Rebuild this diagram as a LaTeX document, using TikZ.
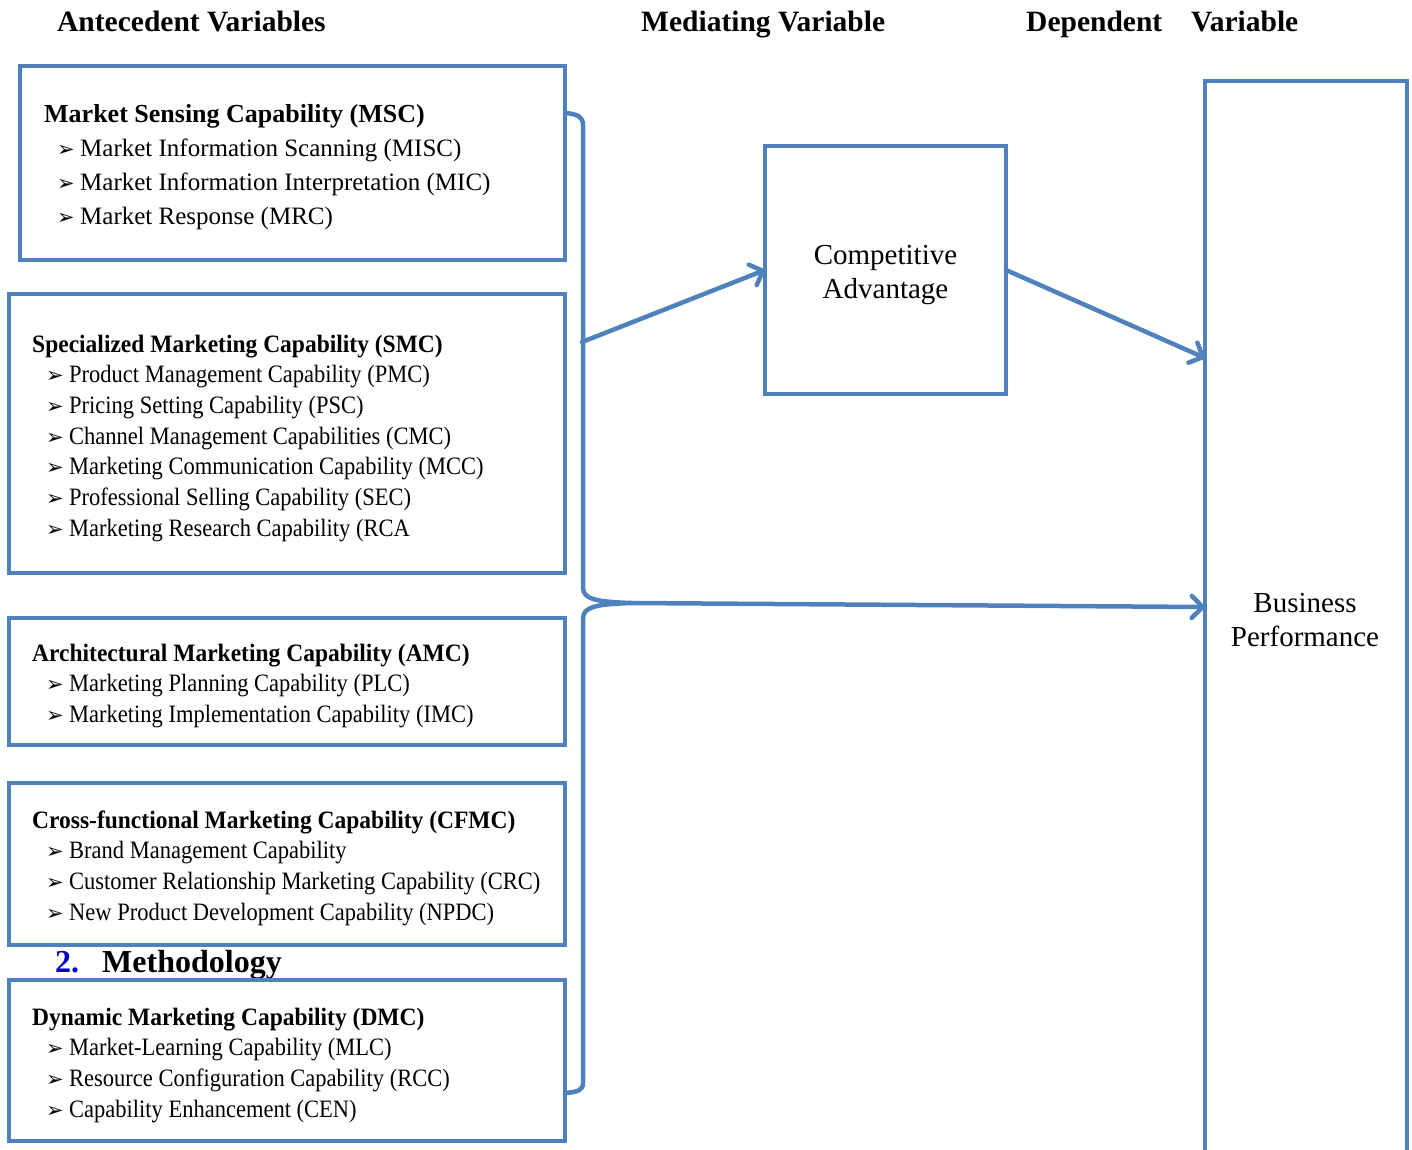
\documentclass[tikz,border=0pt]{standalone}
\usepackage{fontspec}
\setmainfont{Liberation Serif}
\newfontfamily\dejavu{DejaVu Sans}
\usepackage{xcolor}
\usetikzlibrary{arrows.meta,calc,positioning}

\definecolor{boxblue}{HTML}{4F81BD}
\definecolor{numblue}{HTML}{0000CC}
\newcommand{\arrb}{\makebox[23pt][l]{\dejavu\fontsize{21}{21}\selectfont ➢}}

\begin{document}
\begin{tikzpicture}[
    x=1pt, y=-1pt,
    capbox/.style={draw=boxblue, line width=4.5pt, fill=white, rectangle,
                   inner sep=0pt, outer sep=0pt, anchor=north west},
    link/.style={draw=boxblue, line width=4.5pt, line cap=round,
                 -{Straight Barb[round, length=11pt, width=22pt]}},
    brace/.style={draw=boxblue, line width=4.5pt, line cap=round, line join=round},
    head/.style={font=\fontsize{29.5}{34}\selectfont\bfseries, anchor=base west, inner sep=0pt},
    ttl/.style={font=\fontsize{26}{30}\selectfont\bfseries, anchor=base west, inner sep=0pt},
    itm/.style={font=\fontsize{25}{30}\selectfont, anchor=base west, inner sep=0pt},
    ttlc/.style={font=\fontsize{25}{30}\selectfont\bfseries\addfontfeature{FakeStretch=0.94},
                 anchor=base west, inner sep=0pt},
    itmc/.style={font=\fontsize{25}{30}\selectfont\addfontfeature{FakeStretch=0.9},
                 anchor=base west, inner sep=0pt},
    big/.style={font=\fontsize{29}{34}\selectfont, align=center, inner sep=0pt}
]

% page frame
\path[use as bounding box] (0,0) rectangle (1412,1149);

% column headings
\node[head] (hant) at (57,31) {Antecedent Variables};
\node[head] (hmed) at (641,31) {Mediating Variable};
\node[head] (hdep) at (1026,31) {Dependent};
\node[head] (hvar) at (1191,31) {Variable};

% stray section heading
\node[font=\fontsize{32}{36}\selectfont\bfseries, anchor=base west, inner sep=0pt, numblue]
      (secnum) at (55,972) {2.};
\node[font=\fontsize{32}{36}\selectfont\bfseries, anchor=base west, inner sep=0pt]
      (sectitle) at (102,972) {Methodology};

% antecedent boxes
\node[capbox, minimum width=545pt, minimum height=194pt] (msc) at (20,66) {};
\node[capbox, minimum width=556pt, minimum height=279pt] (smc) at (9,294) {};
\node[capbox, minimum width=556pt, minimum height=127pt] (amc) at (9,618) {};
\node[capbox, minimum width=556pt, minimum height=162pt] (cfmc) at (9,783) {};
\node[capbox, minimum width=556pt, minimum height=161pt] (dmc) at (9,980) {};

% MSC
\node[ttl] (msc-t) at (44,122) {Market Sensing Capability (MSC)};
\foreach \t [count=\i] in {Market Information Scanning (MISC),
    Market Information Interpretation (MIC), Market Response (MRC)}
  \node[itm] (msc-\i) at (57,122+34*\i) {\arrb\t};

% SMC
\node[ttlc] (smc-t) at (32,352) {Specialized Marketing Capability (SMC)};
\foreach \t [count=\i] in {Product Management Capability (PMC),
    Pricing Setting Capability (PSC), Channel Management Capabilities (CMC),
    Marketing Communication Capability (MCC), Professional Selling Capability (SEC),
    Marketing Research Capability (RCA}
  \node[itmc] (smc-\i) at (46,352+30.7*\i) {\arrb\t};

% AMC
\node[ttlc] (amc-t) at (32,661) {Architectural Marketing Capability (AMC)};
\foreach \t [count=\i] in {Marketing Planning Capability (PLC),
    Marketing Implementation Capability (IMC)}
  \node[itmc] (amc-\i) at (46,661+30.7*\i) {\arrb\t};

% CFMC
\node[ttlc] (cfmc-t) at (32,828) {Cross-functional Marketing Capability (CFMC)};
\foreach \t [count=\i] in {Brand Management Capability,
    Customer Relationship Marketing Capability (CRC),
    New Product Development Capability (NPDC)}
  \node[itmc] (cfmc-\i) at (46,828+30.7*\i) {\arrb\t};

% DMC
\node[ttlc] (dmc-t) at (32,1025) {Dynamic Marketing Capability (DMC)};
\foreach \t [count=\i] in {Market-Learning Capability (MLC),
    Resource Configuration Capability (RCC), Capability Enhancement (CEN)}
  \node[itmc] (dmc-\i) at (46,1025+30.7*\i) {\arrb\t};

% mediating and dependent boxes
\node[capbox, minimum width=241pt, minimum height=248pt] (ca) at (765,146) {};
\node[big] (ca-t) at ($(ca.center)+(0,5)$) {Competitive\\Advantage};
\node[capbox, minimum width=202pt, minimum height=1100pt] (bp) at (1205,81) {};
\node[big] (bp-t) at (1305,620) {Business\\Performance};

% brace round the antecedents
\coordinate (tip) at (632,603);
\coordinate (bout) at (582,342);
\draw[brace] (565,113) .. controls (578,114) and (583,117) .. (583,125)
    -- (583,588) .. controls (583,600) and (600,602) .. (tip)
    .. controls (600,604) and (583,606) .. (583,618)
    -- (583,1083) .. controls (583,1090) and (578,1092) .. (565,1093);

% links
\coordinate (bp-a) at ($(bp.north west)+(0,277)$);
\coordinate (bp-b) at ($(bp.north west)+(0,526)$);
\draw[link] (bout) -- (ca.west);
\draw[link] (ca.east) -- (bp-a);
\draw[link] (tip) -- (bp-b);

\end{tikzpicture}
\end{document}
